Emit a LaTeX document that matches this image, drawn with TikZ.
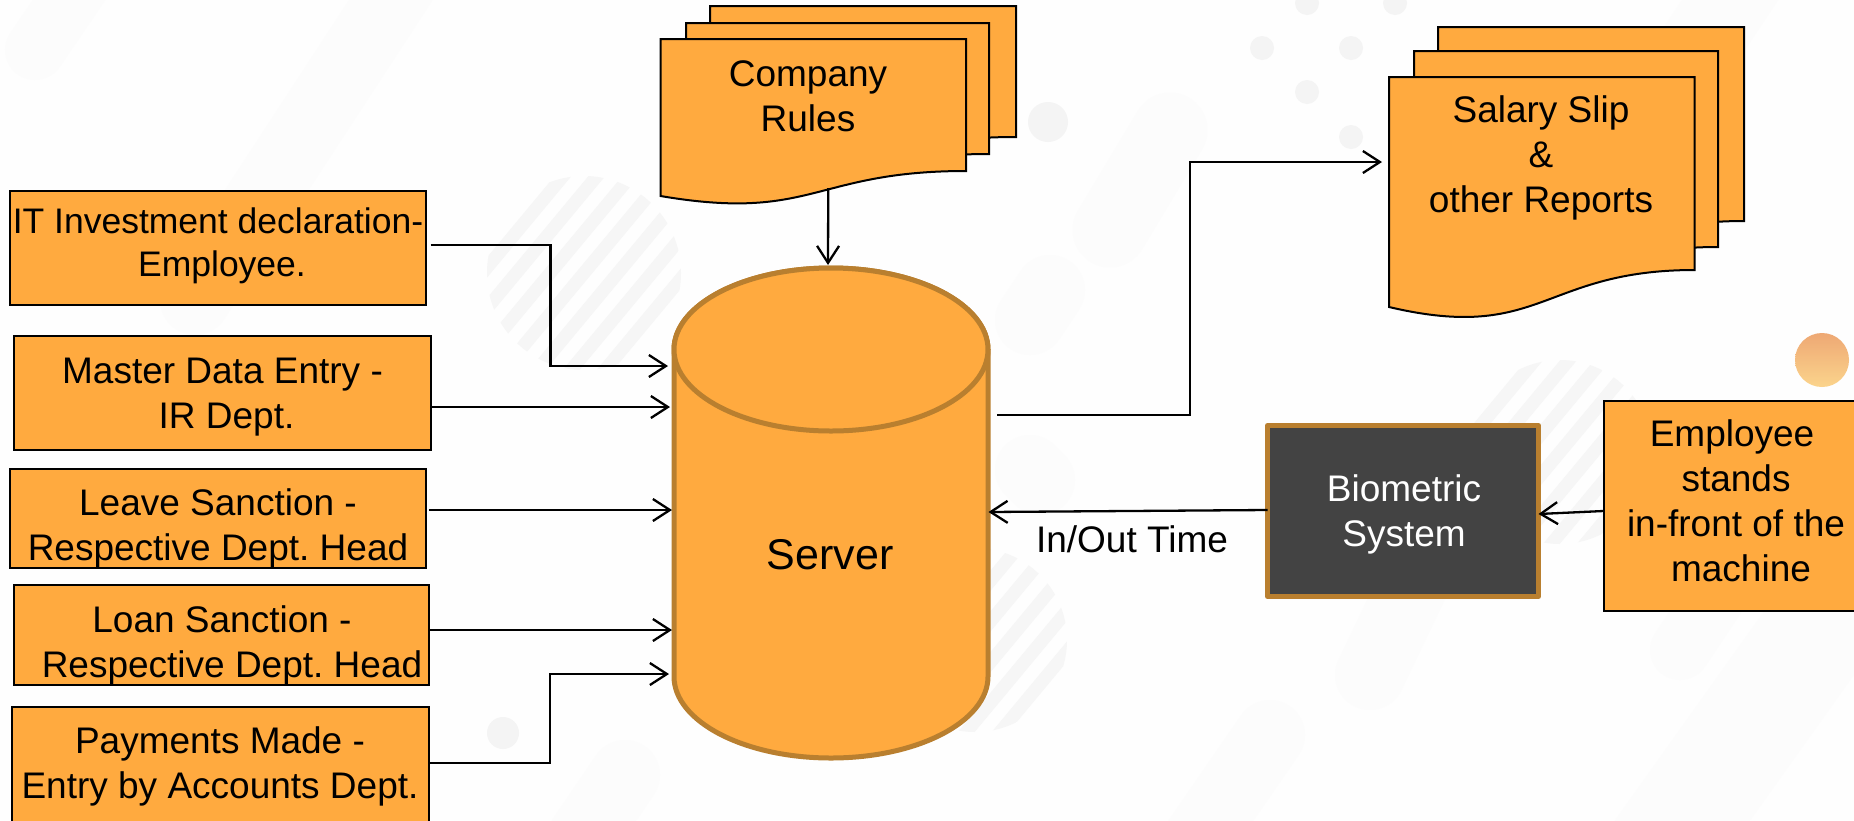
\documentclass[tikz,border=0pt]{standalone}
\usepackage{fontspec}
\setmainfont{Liberation Sans}
\usetikzlibrary{arrows.meta,calc}
\definecolor{bg}{HTML}{FEFEFE}
\definecolor{stripe}{HTML}{FCFCFC}
\definecolor{dot}{HTML}{F4F4F4}
\definecolor{hatch}{HTML}{F6F6F6}
\definecolor{org}{HTML}{FFAA3F}
\definecolor{brn}{HTML}{B97F2F}
\definecolor{dark}{HTML}{434343}
\definecolor{ballA}{HTML}{EEA874}
\definecolor{ballB}{HTML}{FBD48C}
\tikzset{
  every node/.style={inner sep=0pt,outer sep=0pt},
  box/.style={draw=black,line width=2pt,fill=org},
  lbl/.style={align=center,anchor=base,font=\fontsize{37}{45}\selectfont\frenchspacing},
  lblsmall/.style={align=center,anchor=base,font=\fontsize{35.5}{43}\selectfont\frenchspacing},
  lblbig/.style={align=center,anchor=base,font=\fontsize{43}{50}\selectfont\frenchspacing},
  anchorbox/.style={draw=none},
  conn/.style={draw=black,line width=2.3pt,-{Straight Barb[length=17pt,width=22pt,line width=2.3pt]}},
  docline/.style={draw=black,line width=2pt,fill=org},
  cyl/.style={draw=brn,line width=5pt,fill=org}
}
% left right top bottom-right bottom-left control-y
\newcommand{\docshape}[6]{\path[docline] (#1,#3) -- (#2,#3) -- (#2,#4)
  .. controls ({(#1+#2)/2},#4) and ({(#1+#2)/2},#6) .. (#1,#5) -- cycle;}
\newcommand{\hatchdisc}[3]{\begin{scope}
  \clip (#1,#2) circle (#3);
  \foreach \k in {-4,...,4}{
    \draw[hatch,line width=13pt] ({#1+\k*26*0.77-200*0.64},{#2+\k*26*0.64+200*0.77}) -- ({#1+\k*26*0.77+200*0.64},{#2+\k*26*0.64-200*0.77});
  }
  \end{scope}}
\begin{document}
\begin{tikzpicture}[x=1pt,y=-1pt]
\useasboundingbox (0,0) rectangle (1854,820);
\clip (0,0) rectangle (1854,820);
\fill[bg] (0,0) rectangle (1854,820);
% faint background decoration
\begin{scope}[stripe,line cap=round]
  \draw[line width=60pt] (35,50) -- (110,-60);
  \draw[line width=70pt] (195,300) -- (430,-60);
  \draw[line width=70pt] (625,775) -- (540,900);
  \draw[line width=70pt] (1270,735) -- (1170,880);
  \draw[line width=70pt] (1370,675) -- (1425,560);
  \draw[line width=60pt] (1680,650) -- (1780,500);
  \draw[line width=110pt] (1640,880) -- (1854,580);
  \draw[line width=75pt] (1110,230) -- (1170,130);
  \draw[line width=70pt] (1030,320) -- (1050,290);
  \draw[line width=70pt] (1030,470) -- (1040,480);
  \draw[line width=80pt] (1690,60) -- (1770,-60);
\end{scope}
\fill[dot] (1048,122) circle (20);
\fill[dot] (1262,48) circle (12);
\fill[dot] (1351,48) circle (12);
\fill[dot] (1307,92) circle (12);
\fill[dot] (1351,137) circle (12);
\fill[dot] (1307,3) circle (12);
\fill[dot] (1395,3) circle (12);
\fill[dot] (503,733) circle (16);
\hatchdisc{584}{273}{97}
\hatchdisc{975}{640}{92}
\hatchdisc{1560}{452}{92}
\shade[top color=ballA,bottom color=ballB] (1822,360) circle (27);

% document stacks
\docshape{710}{1016}{6}{137}{162}{188}
\docshape{686}{989}{23}{154}{179}{205}
\docshape{660.5}{966}{39}{171}{196}{222}
\node[anchorbox,minimum width=305.5pt,minimum height=149pt] (rules) at (813.25,113.5) {};
\node[lbl] (rulesT) at (808,131) {Company\\Rules};

\docshape{1438}{1744}{27}{221}{257}{293}
\docshape{1414}{1718}{51}{247}{281}{317}
\docshape{1389}{1694.6}{77}{270}{307}{343}
\node[anchorbox,minimum width=305.6pt,minimum height=241pt] (slip) at (1541.8,197.5) {};
\node[lbl] (slipT) at (1541,212) {Salary Slip\\\&\\other Reports};

% input boxes
\node[box,minimum width=416.5pt,minimum height=114pt] (it) at (217.75,248) {};
\node[lblsmall] (itT) at (218,276) {IT Investment declaration-\\\hspace*{8pt}Employee.};
\node[box,minimum width=417pt,minimum height=114pt] (master) at (222.5,393) {};
\node[lbl] (masterT) at (222.5,428) {Master Data Entry -\\\hspace*{8pt}IR Dept.};
\node[box,minimum width=416.5pt,minimum height=99pt] (leave) at (217.75,518.5) {};
\node[lbl] (leaveT) at (218,560) {Leave Sanction -\\Respective Dept. Head};
\node[box,minimum width=415pt,minimum height=100pt] (loan) at (221.5,635) {};
\node[lbl] (loanT) at (232,677) {Loan Sanction -\hspace*{20pt}\\Respective Dept. Head};
\node[box,minimum width=417pt,minimum height=123pt] (pay) at (220.5,768.5) {};
\node[lbl] (payT) at (220,798) {Payments Made -\\Entry by Accounts Dept.};

% server cylinder
\path[cyl] (674,349.5) -- (674,676.5) arc[start angle=180,end angle=0,x radius=157,y radius=81.5]
  -- (988,349.5) arc[start angle=0,end angle=-180,x radius=157,y radius=81.5] -- cycle;
\draw[cyl] (831,349.5) ellipse[x radius=157,y radius=81.5];
\node[anchorbox,minimum width=318pt,minimum height=494pt] (srv) at (831,513) {};
\node[lblbig] (srvT) at (830,569) {Server};

% biometric and employee
\node[draw=brn,line width=5pt,line join=round,fill=dark,minimum width=271pt,minimum height=171pt] (bio) at (1403,511) {};
\node[lbl,text=white] (bioT) at (1404,546) {Biometric\\System};
\node[box,minimum width=260pt,minimum height=210pt] (emp) at (1733.5,506) {};
\node[lbl] (empT) at (1736,581) {Employee\hspace*{8pt}\\stands\\in-front of the\\\hspace*{10pt}machine};
\node[lbl] (inout) at (1132,552) {In/Out Time};

% connectors
\draw[conn] ([xshift=15pt]rules.south) -- ([yshift=1pt,xshift=-3pt]srv.north);
\draw[conn] ([xshift=4.5pt,yshift=3pt]it.east) -- ++(120,0) |- ([xshift=-4pt,yshift=147pt]srv.west);
\draw[conn] ([yshift=-14pt]master.east) -- ([xshift=-2pt,yshift=106pt]srv.west);
\draw[conn] ([yshift=8.5pt,xshift=3pt]leave.east) -- ([yshift=3pt]srv.west);
\draw[conn] ([yshift=5pt]loan.east) -- ([yshift=-117pt]srv.west);
\draw[conn] ([yshift=5.5pt]pay.east) -- ++(121,0) |- ([xshift=-3pt,yshift=-161pt]srv.west);
\draw[conn] ([xshift=7pt,yshift=98pt]srv.east) -- ++(193,0) |- ([xshift=-7pt,yshift=35.5pt]slip.west);
\draw[conn] ([yshift=1pt]bio.west) -- ([xshift=-1.5pt,yshift=1pt]srv.east);
\draw[conn] ([yshift=-5pt]emp.west) -- ([yshift=-3pt]bio.east);
\end{tikzpicture}
\end{document}
